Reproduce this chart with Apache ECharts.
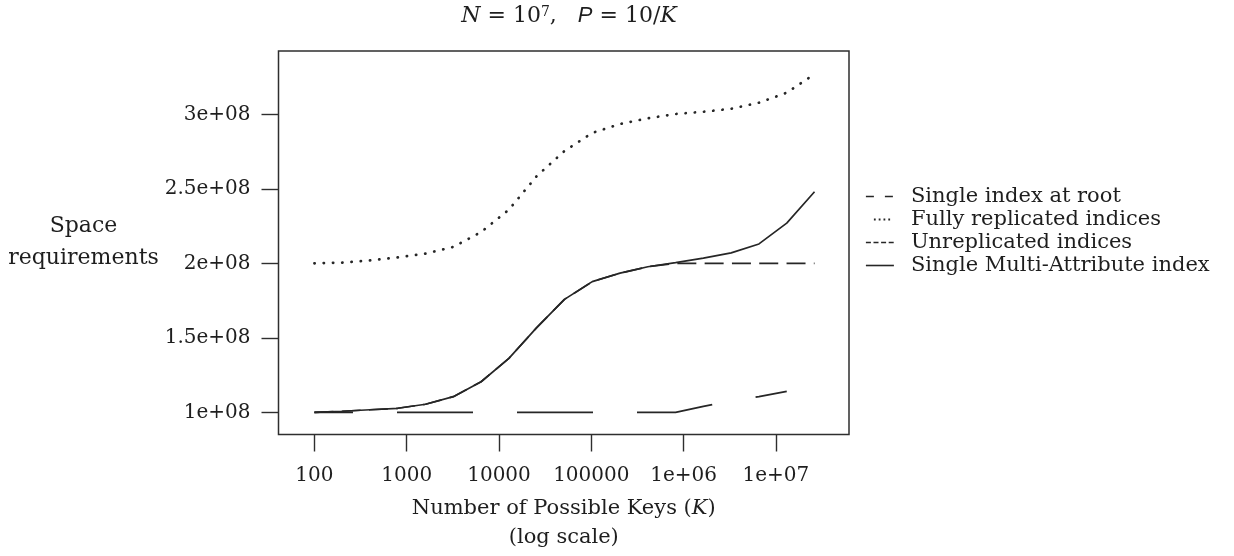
<!DOCTYPE html>
<html>
<head>
<meta charset="utf-8">
<script src="https://cdn.jsdelivr.net/npm/echarts@6/dist/echarts.min.js"></script>
<style>
html,body{margin:0;padding:0;background:#ffffff;}
#chart{width:1234px;height:556px;}
</style>
</head>
<body>
<div id="chart"></div>
<script>
// ---- data ----
const seriesNames = ['Single index at root', 'Fully replicated indices', 'Unreplicated indices', 'Single Multi-Attribute index'];
const keys = [100, 200, 400, 800, 1600, 3200, 6400, 12800, 25600, 51200, 102400, 204800, 409600, 819200, 1638400, 3276800, 6553600, 13107200, 26214400];
const singleIndexAtRoot = [1.0e8, 1.0e8, 1.0e8, 1.0e8, 1.0e8, 1.0e8, 1.0e8, 1.0e8, 1.0e8, 1.0e8, 1.0e8, 1.0e8, 1.0e8, 1.0e8, 1.04e8, 1.075e8, 1.105e8, 1.14e8];
const fullyReplicated = [2.0e8, 2.005e8, 2.02e8, 2.04e8, 2.065e8, 2.11e8, 2.21e8, 2.36e8, 2.585e8, 2.754e8, 2.875e8, 2.935e8, 2.973e8, 3.002e8, 3.017e8, 3.037e8, 3.078e8, 3.145e8, 3.27e8];
const unreplicated = [1.0e8, 1.007e8, 1.017e8, 1.027e8, 1.054e8, 1.105e8, 1.205e8, 1.362e8, 1.568e8, 1.758e8, 1.877e8, 1.934e8, 1.977e8, 2.0e8, 2.0e8, 2.0e8, 2.0e8, 2.0e8, 2.0e8];
const singleMultiAttribute = [1.0e8, 1.007e8, 1.017e8, 1.027e8, 1.054e8, 1.105e8, 1.205e8, 1.362e8, 1.568e8, 1.758e8, 1.877e8, 1.934e8, 1.977e8, 2.005e8, 2.035e8, 2.07e8, 2.13e8, 2.27e8, 2.48e8];
const xTickKeys = [100, 1000, 10000, 100000, 1000000, 10000000];
const xTickLabels = ['100', '1000', '10000', '100000', '1e+06', '1e+07'];
const yTickValues = [1e8, 1.5e8, 2e8, 2.5e8, 3e8];
const yTickLabels = ['1e+08', '1.5e+08', '2e+08', '2.5e+08', '3e+08'];

// ---- layout / style ----
const xLogMin = 1.611, xLogMax = 7.792;
const yMin = 0.851e8, yMax = 3.425e8;
const FONT = 'DejaVu Serif';
const INK = '#1e1e1e';
const LINE = '#262626';

const pairs = vals => vals.map((v, i) => [keys[i], v]);
const xTickLogs = xTickKeys.map(k => Math.log10(k));

function xLabel(v) {
  for (let i = 0; i < xTickLogs.length; i++) if (Math.abs(xTickLogs[i] - v) < 1e-6) return xTickLabels[i];
  return '';
}
function yLabel(v) {
  for (let i = 0; i < yTickValues.length; i++) if (Math.abs(yTickValues[i] - v) < 1) return yTickLabels[i];
  return '';
}

const chart = echarts.init(document.getElementById('chart'), null, {renderer: 'canvas'});
chart.setOption({
  animation: false,
  backgroundColor: '#ffffff',
  title: {
    text: '{i|N} = 10{s|7},   {p|P} = 10/{i|K}',
    left: 564,
    textAlign: 'center',
    top: 0,
    textStyle: {
      fontFamily: FONT, fontSize: 22, fontWeight: 'normal', color: INK,
      rich: {
        i: {fontFamily: FONT, fontSize: 22, fontStyle: 'italic', color: INK},
        p: {fontFamily: 'Liberation Sans', fontSize: 22, fontStyle: 'italic', color: INK},
        s: {fontFamily: FONT, fontSize: 14, verticalAlign: 'top', color: INK}
      }
    }
  },
  grid: {
    left: 278.5, top: 51, width: 570.5, height: 383.5,
    show: true, borderColor: '#2e2e2e', borderWidth: 1.5, backgroundColor: 'transparent',
    containLabel: false, outerBoundsMode: 'none'
  },
  legend: {
    orient: 'vertical',
    left: 860, top: 181,
    itemWidth: 28, itemHeight: 12, itemGap: 2,
    selectedMode: false,
    itemStyle: {opacity: 0},
    textStyle: {fontFamily: FONT, fontSize: 21, color: INK, lineHeight: 21, padding: [0, 0, 0, 12]},
    data: [
      {name: seriesNames[0], lineStyle: {type: [8, 11], width: 1.6, dashOffset: 0, cap: 'butt'}},
      {name: seriesNames[1], lineStyle: {type: [0, 8, 1.8, 3, 1.8, 3, 1.8, 3, 1.8, 30], width: 1.8, dashOffset: 0, cap: 'butt'}},
      {name: seriesNames[2], lineStyle: {type: [5, 2.6], width: 1.6, dashOffset: 0, cap: 'butt'}},
      {name: seriesNames[3], lineStyle: {type: 'solid', width: 1.6, dashOffset: 0, cap: 'butt'}}
    ]
  },
  xAxis: [
    {
      type: 'log', logBase: 10,
      min: Math.pow(10, xLogMin), max: Math.pow(10, xLogMax),
      show: false
    },
    {
      type: 'value', position: 'bottom',
      min: xLogMin, max: xLogMax,
      axisLine: {show: false},
      splitLine: {show: false},
      axisTick: {show: true, inside: false, length: 17, customValues: xTickLogs, lineStyle: {color: '#2e2e2e', width: 1.4}},
      axisLabel: {show: true, customValues: xTickLogs, formatter: xLabel, margin: 31, fontFamily: FONT, fontSize: 20, color: INK},
      name: '{n|Number of Possible Keys (}{k|K}{n|)}\n{n|(log scale)}',
      nameLocation: 'middle', nameGap: 60, nameMoveOverlap: false,
      nameTextStyle: {
        fontFamily: FONT, fontSize: 21, color: INK, lineHeight: 29, align: 'center',
        rich: {
          n: {fontFamily: FONT, fontSize: 21, color: INK, lineHeight: 29},
          k: {fontFamily: FONT, fontSize: 21, color: INK, lineHeight: 29, fontStyle: 'italic'}
        }
      }
    }
  ],
  yAxis: {
    type: 'value',
    min: yMin, max: yMax,
    axisLine: {show: false},
    splitLine: {show: false},
    axisTick: {show: true, inside: false, length: 17, customValues: yTickValues, lineStyle: {color: '#2e2e2e', width: 1.4}},
    axisLabel: {show: true, customValues: yTickValues, formatter: yLabel, margin: 28, fontFamily: FONT, fontSize: 20, color: INK},
    name: 'Space\nrequirements',
    nameLocation: 'middle', nameRotate: 0, nameGap: 195, nameMoveOverlap: false,
    nameTextStyle: {fontFamily: FONT, fontSize: 22, color: INK, lineHeight: 32, align: 'center', verticalAlign: 'middle'}
  },
  series: [
    {
      name: seriesNames[0], type: 'line', xAxisIndex: 0, yAxisIndex: 0,
      symbol: 'none', showSymbol: false, silent: true, z: 2,
      data: pairs(singleIndexAtRoot),
      lineStyle: {color: LINE, width: 1.7, type: [76, 44], dashOffset: 37.4, cap: 'butt'}
    },
    {
      name: seriesNames[1], type: 'line', xAxisIndex: 0, yAxisIndex: 0,
      symbol: 'none', showSymbol: false, silent: true, z: 2,
      data: pairs(fullyReplicated),
      lineStyle: {color: LINE, width: 2.7, type: [0.3, 8.97], cap: 'round'}
    },
    {
      name: seriesNames[2], type: 'line', xAxisIndex: 0, yAxisIndex: 0,
      symbol: 'none', showSymbol: false, silent: true, z: 2,
      data: pairs(unreplicated),
      lineStyle: {color: LINE, width: 1.7, type: [19, 8.3], cap: 'butt'}
    },
    {
      name: seriesNames[3], type: 'line', xAxisIndex: 0, yAxisIndex: 0,
      symbol: 'none', showSymbol: false, silent: true, z: 3,
      data: pairs(singleMultiAttribute),
      lineStyle: {color: LINE, width: 1.7, type: 'solid'}
    }
  ]
});
</script>
</body>
</html>
